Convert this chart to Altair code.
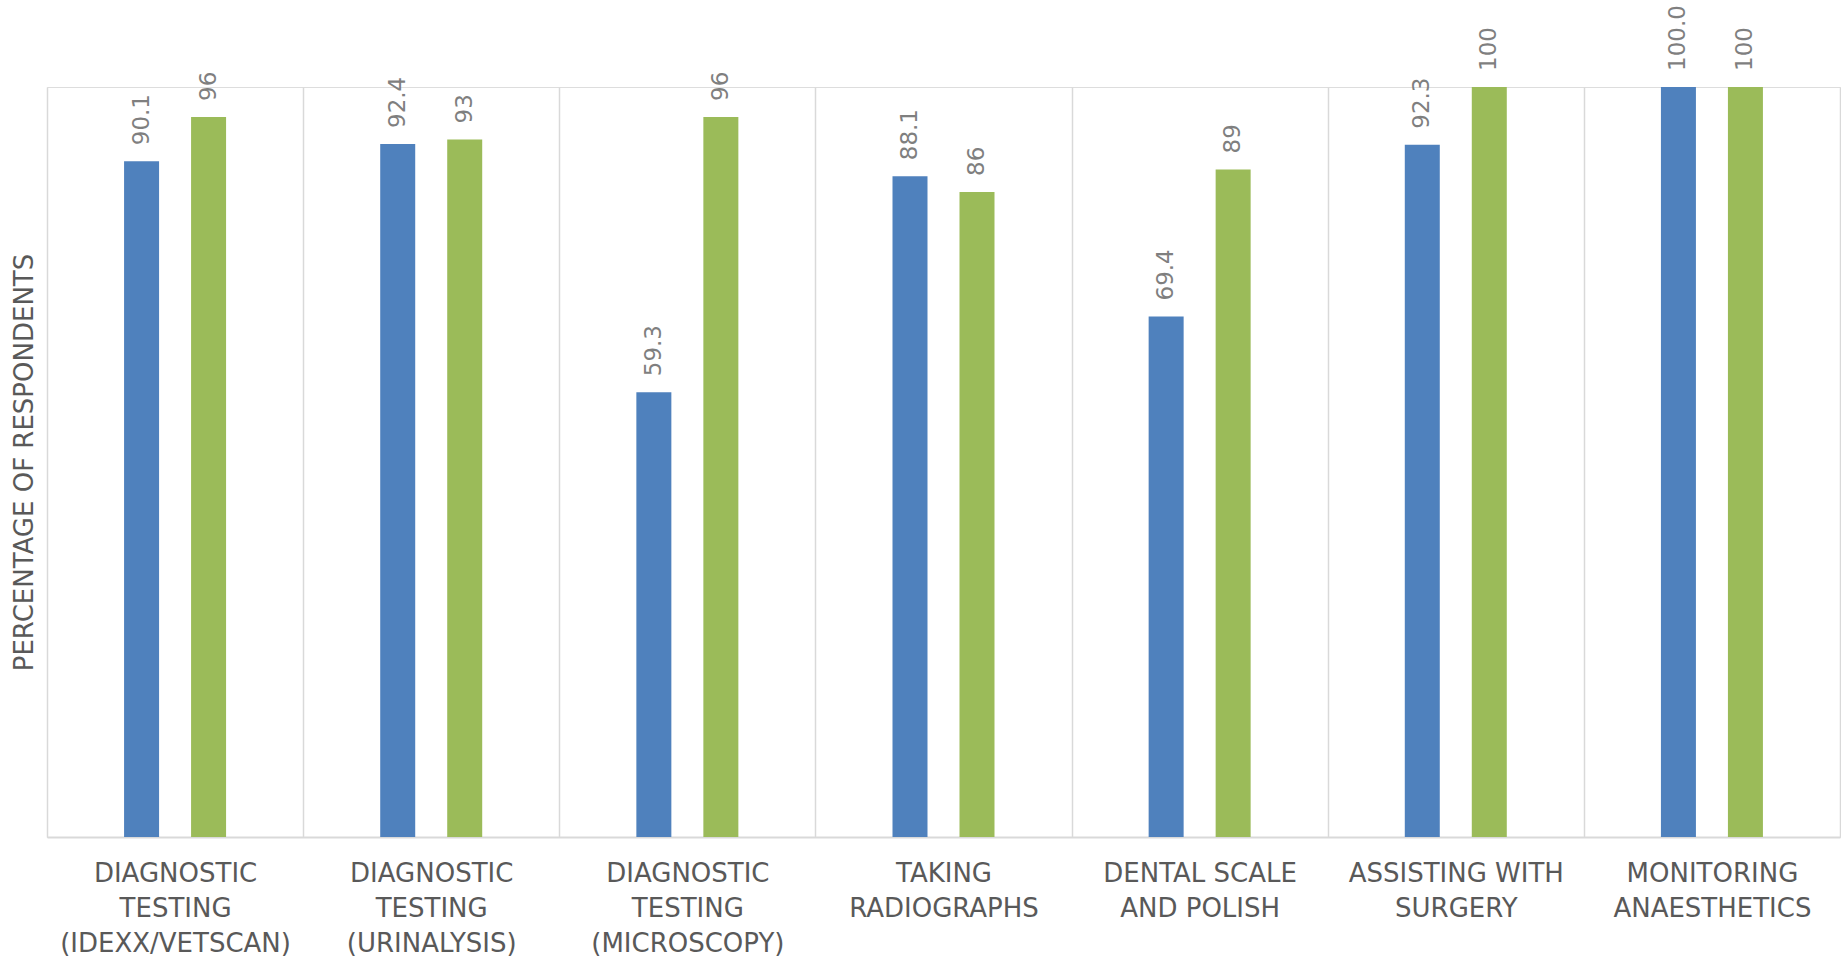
import altair as alt
import pandas as pd

categories = [
    "DIAGNOSTIC TESTING (IDEXX/VETSCAN)",
    "DIAGNOSTIC TESTING (URINALYSIS)",
    "DIAGNOSTIC TESTING (MICROSCOPY)",
    "TAKING RADIOGRAPHS",
    "DENTAL SCALE AND POLISH",
    "ASSISTING WITH SURGERY",
    "MONITORING ANAESTHETICS",
]
label_lines = [
    ["DIAGNOSTIC", "TESTING", "(IDEXX/VETSCAN)"],
    ["DIAGNOSTIC", "TESTING", "(URINALYSIS)"],
    ["DIAGNOSTIC", "TESTING", "(MICROSCOPY)"],
    ["TAKING", "RADIOGRAPHS"],
    ["DENTAL SCALE", "AND POLISH"],
    ["ASSISTING WITH", "SURGERY"],
    ["MONITORING", "ANAESTHETICS"],
]
series_names = ["Series 1", "Series 2"]
series_colors = ["#4f81bd", "#9bbb59"]
blue_values = [90.1, 92.4, 59.3, 88.1, 69.4, 92.3, 100.0]
green_values = [96, 93, 96, 86, 89, 100, 100]
blue_labels = ["90.1", "92.4", "59.3", "88.1", "69.4", "92.3", "100.0"]
green_labels = ["96", "93", "96", "86", "89", "100", "100"]

rows = []
for i, c in enumerate(categories):
    rows.append({"category": c, "series": series_names[0], "value": blue_values[i], "label": blue_labels[i]})
    rows.append({"category": c, "series": series_names[1], "value": green_values[i], "label": green_labels[i]})
df = pd.DataFrame(rows)

# label expression building multi-line axis labels
expr = "''"
for c, lines in reversed(list(zip(categories, label_lines))):
    arr = "[" + ",".join("'" + l + "'" for l in lines) + "]"
    expr = f"datum.label == '{c}' ? {arr} : ({expr})"

W, H = 1793, 750

x_enc = alt.X(
    "category:N",
    sort=categories,
    scale=alt.Scale(paddingInner=0, paddingOuter=0),
    axis=alt.Axis(
        title=None,
        labelAngle=0,
        labelExpr=expr,
        labelFont="DejaVu Sans",
        labelFontSize=26,
        labelLineHeight=35,
        labelColor="#595959",
        labelPadding=23,
        labelLimit=0,
        ticks=False,
        grid=True,
        tickBand="extent",
        gridColor="#d9d9d9",
        gridWidth=1.5,
        domainColor="#d9d9d9",
        domainWidth=2,
    ),
)
xo_enc = alt.XOffset(
    "series:N",
    sort=series_names,
    scale=alt.Scale(paddingInner=0.177, paddingOuter=1.0),
)
y_enc = alt.Y(
    "value:Q",
    scale=alt.Scale(domain=[0, 100], nice=False, zero=True),
    axis=alt.Axis(
        title="PERCENTAGE OF RESPONDENTS",
        titleFont="DejaVu Sans",
        titleFontSize=26,
        titleFontWeight="normal",
        titleColor="#595959",
        titlePadding=10,
        labels=False,
        ticks=False,
        domain=False,
        grid=False,
    ),
)

bars = alt.Chart(df).mark_bar(size=35).encode(
    x=x_enc,
    xOffset=xo_enc,
    y=y_enc,
    color=alt.Color("series:N", sort=series_names,
                    scale=alt.Scale(domain=series_names, range=series_colors), legend=None),
)

texts = alt.Chart(df).mark_text(
    angle=270, align="left", baseline="middle", dx=16,
    font="DejaVu Sans", fontSize=23, color="#7f7f7f",
).encode(
    x=alt.X("category:N", sort=categories),
    xOffset=alt.XOffset("series:N", sort=series_names),
    y=alt.Y("value:Q"),
    text="label:N",
)

chart = alt.layer(bars, texts).properties(
    width=W, height=H,
    autosize=alt.AutoSizeParams(type="none"),
    padding={"left": 47, "top": 87, "right": 1, "bottom": 121},
).configure_view(stroke=None).configure(background="white")

chart.save("out.html", embed_options={"renderer": "svg", "actions": False})
